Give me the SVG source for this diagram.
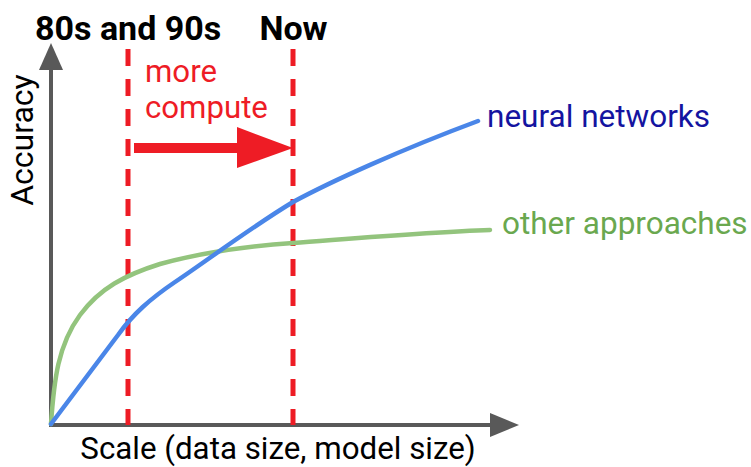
<svg xmlns="http://www.w3.org/2000/svg" width="751" height="467" viewBox="0 0 751 467">
  <style>
    .axis { stroke: #595959; stroke-width: 4; fill: none; }
    .axis-head { fill: #595959; }
    .era { stroke: #ee1c25; stroke-width: 5; stroke-dasharray: 17 13; fill: none; }
    .curve { fill: none; stroke-width: 4.5; stroke-linecap: round; }
    .label { font-family: Roboto, "Liberation Sans", sans-serif; }
  </style>
  <rect width="751" height="467" fill="#ffffff"/>

  <!-- axes -->
  <g id="axes">
    <line class="axis" x1="51" y1="425" x2="51" y2="62"/>
    <polygon class="axis-head" points="51,43 39,70 63,70"/>
    <line class="axis" x1="49" y1="425" x2="498" y2="425"/>
    <polygon class="axis-head" points="519,425 490,413 490,437"/>
    <text class="label" x="0" y="0" font-size="32" fill="#000" text-anchor="middle" transform="translate(33 140) rotate(-90)">Accuracy</text>
    <text class="label" x="278" y="459" font-size="31.3" fill="#000" text-anchor="middle">Scale (data size, model size)</text>
  </g>

  <!-- era markers -->
  <g id="era-80s">
    <line class="era" x1="128" y1="49" x2="128" y2="425"/>
    <text class="label" x="35" y="40" font-size="34" font-weight="bold" fill="#000">80s and 90s</text>
  </g>
  <g id="era-now">
    <line class="era" x1="293" y1="49" x2="293" y2="425"/>
    <text class="label" x="293.5" y="40" font-size="34" font-weight="bold" fill="#000" text-anchor="middle">Now</text>
  </g>

  <!-- curves -->
  <g id="other-approaches">
    <path class="curve" stroke="#93c47d" d="M51,424 C54,380 58,345 80,315 C100,288 125,275 160,264 C200,253 250,246 293,243 C360,238 430,232 490,230"/>
    <text class="label" x="502" y="234" font-size="31.5" fill="#6aa84f">other approaches</text>
  </g>
  <g id="neural-networks">
    <path class="curve" stroke="#4a86e8" d="M51,424 L118,335 C133,314 150,299 175,282 C205,262 250,228 293,202 C330,182 400,150 478,121"/>
    <text class="label" x="487" y="127" font-size="31.5" fill="#1414a0">neural networks</text>
  </g>

  <!-- compute arrow -->
  <g id="more-compute">
    <text class="label" x="145" y="82" font-size="31.2" fill="#ee1c25">more</text>
    <text class="label" x="145" y="118" font-size="31.2" fill="#ee1c25">compute</text>
    <line x1="134" y1="148" x2="240" y2="148" stroke="#ee1c25" stroke-width="10"/>
    <polygon points="293,148 237,127 237,168" fill="#ee1c25"/>
  </g>
</svg>
